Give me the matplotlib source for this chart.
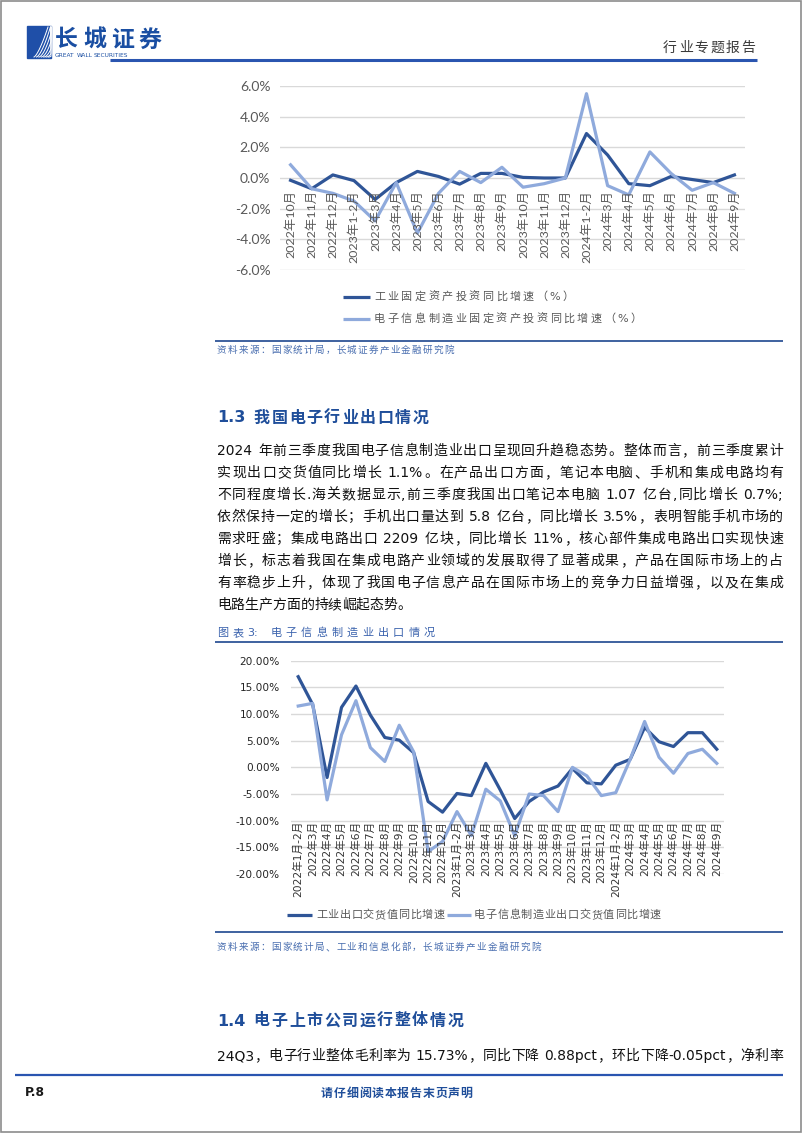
import numpy as np
import matplotlib
matplotlib.use('Agg')
import matplotlib.pyplot as plt
from matplotlib.patches import Rectangle

plt.rcParams['font.family'] = ['DejaVu Sans', 'Noto Sans CJK SC']
LATO = ['Lato', 'Noto Sans CJK SC']

# chart 1: 工业 / 电子信息制造业 固定资产投资同比增速 (%)
inv_months = ['2022年10月', '2022年11月', '2022年12月', '2023年1-2月', '2023年3月',
              '2023年4月', '2023年5月', '2023年6月', '2023年7月', '2023年8月',
              '2023年9月', '2023年10月', '2023年11月', '2023年12月', '2024年1-2月',
              '2024年3月', '2024年4月', '2024年5月', '2024年6月', '2024年7月',
              '2024年8月', '2024年9月']
inv_industry = [-0.15, -0.7, 0.2, -0.17, -1.4, -0.3, 0.43, 0.1, -0.4, 0.3, 0.3,
                0.04, 0.0, 0.0, 2.9, 1.5, -0.37, -0.5, 0.1, -0.1, -0.3, 0.2]
inv_electronic = [0.86, -0.7, -1.0, -1.5, -2.8, -0.3, -3.6, -1.0, 0.43, -0.3, 0.7,
                  -0.6, -0.37, 0.0, 5.5, -0.5, -1.1, 1.7, 0.3, -0.8, -0.3, -1.0]

# chart 2: 出口交货值同比增速 (%)
exp_months = ['2022年1月-2月', '2022年3月', '2022年4月', '2022年5月', '2022年6月',
              '2022年7月', '2022年8月', '2022年9月', '2022年10月', '2022年11月',
              '2022年12月', '2023年1月-2月', '2023年3月', '2023年4月', '2023年5月',
              '2023年6月', '2023年7月', '2023年8月', '2023年9月', '2023年10月',
              '2023年11月', '2023年12月', '2024年1月-2月', '2024年3月', '2024年4月',
              '2024年5月', '2024年6月', '2024年7月', '2024年8月', '2024年9月']
exp_industry = [17.0, 11.8, -1.9, 11.25, 15.25, 9.8, 5.6, 5.1, 2.75, -6.4,
                -8.4, -4.9, -5.3, 0.75, -4.25, -9.6, -6.4, -4.6, -3.5, -0.2,
                -2.9, -3.1, 0.4, 1.5, 7.5, 4.8, 3.9, 6.5, 6.5, 3.4]
exp_electronic = [11.5, 12.0, -6.1, 6.1, 12.5, 3.7, 1.1, 7.9, 2.9, -15.8,
                  -13.9, -8.3, -12.8, -4.1, -6.3, -12.8, -5.0, -5.3, -8.3, 0.0,
                  -1.6, -5.3, -4.75, 1.5, 8.6, 1.9, -1.1, 2.6, 3.4, 0.75]

para1 = ['2024 年前三季度我国电子信息制造业出口呈现回升趋稳态势。整体而言，前三季度累计',
         '实现出口交货值同比增长 1.1%。在产品出口方面，笔记本电脑、手机和集成电路均有',
         '不同程度增长.海关数据显示,前三季度我国出口笔记本电脑 1.07 亿台,同比增长 0.7%;',
         '依然保持一定的增长；手机出口量达到 5.8 亿台，同比增长 3.5%，表明智能手机市场的',
         '需求旺盛；集成电路出口 2209 亿块，同比增长 11%，核心部件集成电路出口实现快速',
         '增长，标志着我国在集成电路产业领域的发展取得了显著成果，产品在国际市场上的占',
         '有率稳步上升，体现了我国电子信息产品在国际市场上的竞争力日益增强，以及在集成',
         '电路生产方面的持续崛起态势。']
para2 = '24Q3，电子行业整体毛利率为 15.73%，同比下降 0.88pct，环比下降-0.05pct，净利率'

DARK = '#2f5597'
LIGHT = '#8faadc'
BLUE = '#1f4e9a'

W, H = 802, 1133
fig = plt.figure(figsize=(W / 100, H / 100), dpi=100)
page = fig.add_axes([0, 0, 1, 1])
page.set_xlim(0, W)
page.set_ylim(H, 0)
page.axis('off')
rend = fig.canvas.get_renderer()


def box(x0, y0, x1, y1):
    return [x0 / W, 1 - y1 / H, (x1 - x0) / W, (y1 - y0) / H]


def tokens(s):
    out, buf = [], ''
    for ch in s:
        if ord(ch) < 128 and ch != ' ':
            buf += ch
        else:
            if buf:
                out.append(buf)
                buf = ''
            out.append(ch)
    if buf:
        out.append(buf)
    return out


def write(s, x0, y, size, color='black', weight='normal', x1=None, gap=0.0, family=None):
    toks = tokens(s)
    arts, widths = [], []
    for t in toks:
        a = page.text(0, y, t, fontsize=size, color=color, fontweight=weight,
                      va='center', ha='left', family=family)
        if t == ' ':
            w = size * 0.32 / 0.72
        else:
            w = a.get_window_extent(rend).width
        arts.append(a)
        widths.append(w)
    if x1 is not None and len(toks) > 1:
        gap = (x1 - x0 - sum(widths)) / (len(toks) - 1)
    x = x0
    for a, w in zip(arts, widths):
        a.set_x(x)
        x += w + gap


def hline(x0, x1, y, color, lw):
    page.plot([x0, x1], [y, y], color=color, lw=lw, solid_capstyle='butt')


# page frame
page.add_patch(Rectangle((0.5, 0.5), W - 1.5, H - 1.5, fill=False, ec='#8c8c8c', lw=1.2))

# header
page.add_patch(Rectangle((27, 26), 24, 32, color='#1f4fa8'))
for k in range(7):
    t = np.linspace(0, 1, 30)
    xs = 34 + k * 2.4 + 14 * t
    ys = 57 - 30 * t ** (1.4 + 0.15 * k)
    page.plot(np.clip(xs, 27, 51), ys, color='white', lw=0.7)
write('长城证券', 55, 40, 16.5, color='#1a4ea2', weight='bold', gap=5)
write('GREAT WALL SECURITIES', 55, 55.5, 4.2, color='#1a4ea2')
hline(110, 757, 59.5, '#2a55b0', 2.2)
write('行业专题报告', 663, 48, 10, color='#3a3a3a', gap=1.8)

# ---- chart 1
ax1 = fig.add_axes(box(280, 86, 745, 270))
x1 = np.arange(len(inv_months))
ax1.plot(x1, inv_industry, color=DARK, lw=2.3)
ax1.plot(x1, inv_electronic, color=LIGHT, lw=2.3)
ax1.set_xlim(-0.5, len(inv_months) - 0.5)
ax1.set_ylim(-6, 6)
ax1.set_yticks(np.arange(-6, 7, 2))
ax1.set_yticklabels(['%.1f%%' % v for v in np.arange(-6, 7, 2)], family=LATO,
                    fontsize=10, color='#595959')
ax1.set_xticks([])
ax1.tick_params(axis='y', length=0, pad=7)
ax1.grid(axis='y', color='#d9d9d9', lw=1)
ax1.set_axisbelow(True)
for s in ax1.spines.values():
    s.set_visible(False)
for i, lab in enumerate(inv_months):
    ax1.text(i, -0.8, lab, rotation=90, ha='center', va='top', fontsize=8.9,
             color='#595959', family=LATO)

page.plot([343, 370], [297, 297], color=DARK, lw=2.3, solid_capstyle='butt')
write('工业固定资产投资同比增速（%）', 374, 297, 8, color='#595959', gap=2.4)
page.plot([343, 370], [319, 319], color=LIGHT, lw=2.3, solid_capstyle='butt')
write('电子信息制造业固定资产投资同比增速（%）', 374, 319, 8, color='#595959', gap=2.4)

hline(215, 783, 341, DARK, 1.3)
write('资料来源：国家统计局，长城证券产业金融研究院', 217, 350, 6.9, color='#4a6fb0', gap=1.2)

# ---- section 1.3
write('1.3 我国电子行业出口情况', 217, 418, 11.5, color=BLUE, weight='bold', gap=1.6)
y = 451
for k, line in enumerate(para1):
    write(line, 217, y + k * 22, 10, color='#111111',
          x1=783 if k < len(para1) - 1 else None)

write('图表3: 电子信息制造业出口情况', 217, 633, 8, color='#3a62ad', gap=4.2)
hline(215, 783, 642, DARK, 1.3)

# ---- chart 2
ax2 = fig.add_axes(box(291, 660.7, 724, 874))
x2 = np.arange(len(exp_months))
ax2.plot(x2, exp_industry, color=DARK, lw=2.3)
ax2.plot(x2, exp_electronic, color=LIGHT, lw=2.3)
ax2.set_xlim(-0.5, len(exp_months) - 0.5)
ax2.set_ylim(-20, 20)
ax2.set_yticks(np.arange(-20, 21, 5))
ax2.set_yticklabels(['%.2f%%' % v for v in np.arange(-20, 21, 5)], fontsize=7.6,
                    color='#262626')
ax2.set_xticks([])
ax2.tick_params(axis='y', length=0, pad=8)
ax2.grid(axis='y', color='#d9d9d9', lw=1)
ax2.set_axisbelow(True)
for s in ax2.spines.values():
    s.set_visible(False)
for i, lab in enumerate(exp_months):
    ax2.text(i, -10, lab, rotation=90, ha='center', va='top', fontsize=7.7,
             color='#333333')

page.plot([287, 312], [915, 915], color=DARK, lw=2.3, solid_capstyle='butt')
write('工业出口交货值同比增速', 316, 915, 8, color='#595959', gap=0.6)
page.plot([447, 471], [915, 915], color=LIGHT, lw=2.3, solid_capstyle='butt')
write('电子信息制造业出口交货值同比增速', 474, 915, 8, color='#595959', gap=0.6)

hline(215, 783, 932, DARK, 1.3)
write('资料来源：国家统计局、工业和信息化部，长城证券产业金融研究院', 217, 947, 6.9,
      color='#4a6fb0', gap=1.2)

# ---- section 1.4
write('1.4 电子上市公司运行整体情况', 217, 1021, 11.5, color=BLUE, weight='bold', gap=1.6)
write(para2, 217, 1056, 10, color='#111111', x1=783)

# footer
hline(15, 783, 1075, '#2a55b0', 1.6)
write('P.8', 25, 1093, 8.8, color='#1a1a1a', weight='bold')
write('请仔细阅读本报告末页声明', 321, 1093, 8.6, color=BLUE, weight='bold', gap=0.8)

fig.savefig('out.png', dpi=100)
